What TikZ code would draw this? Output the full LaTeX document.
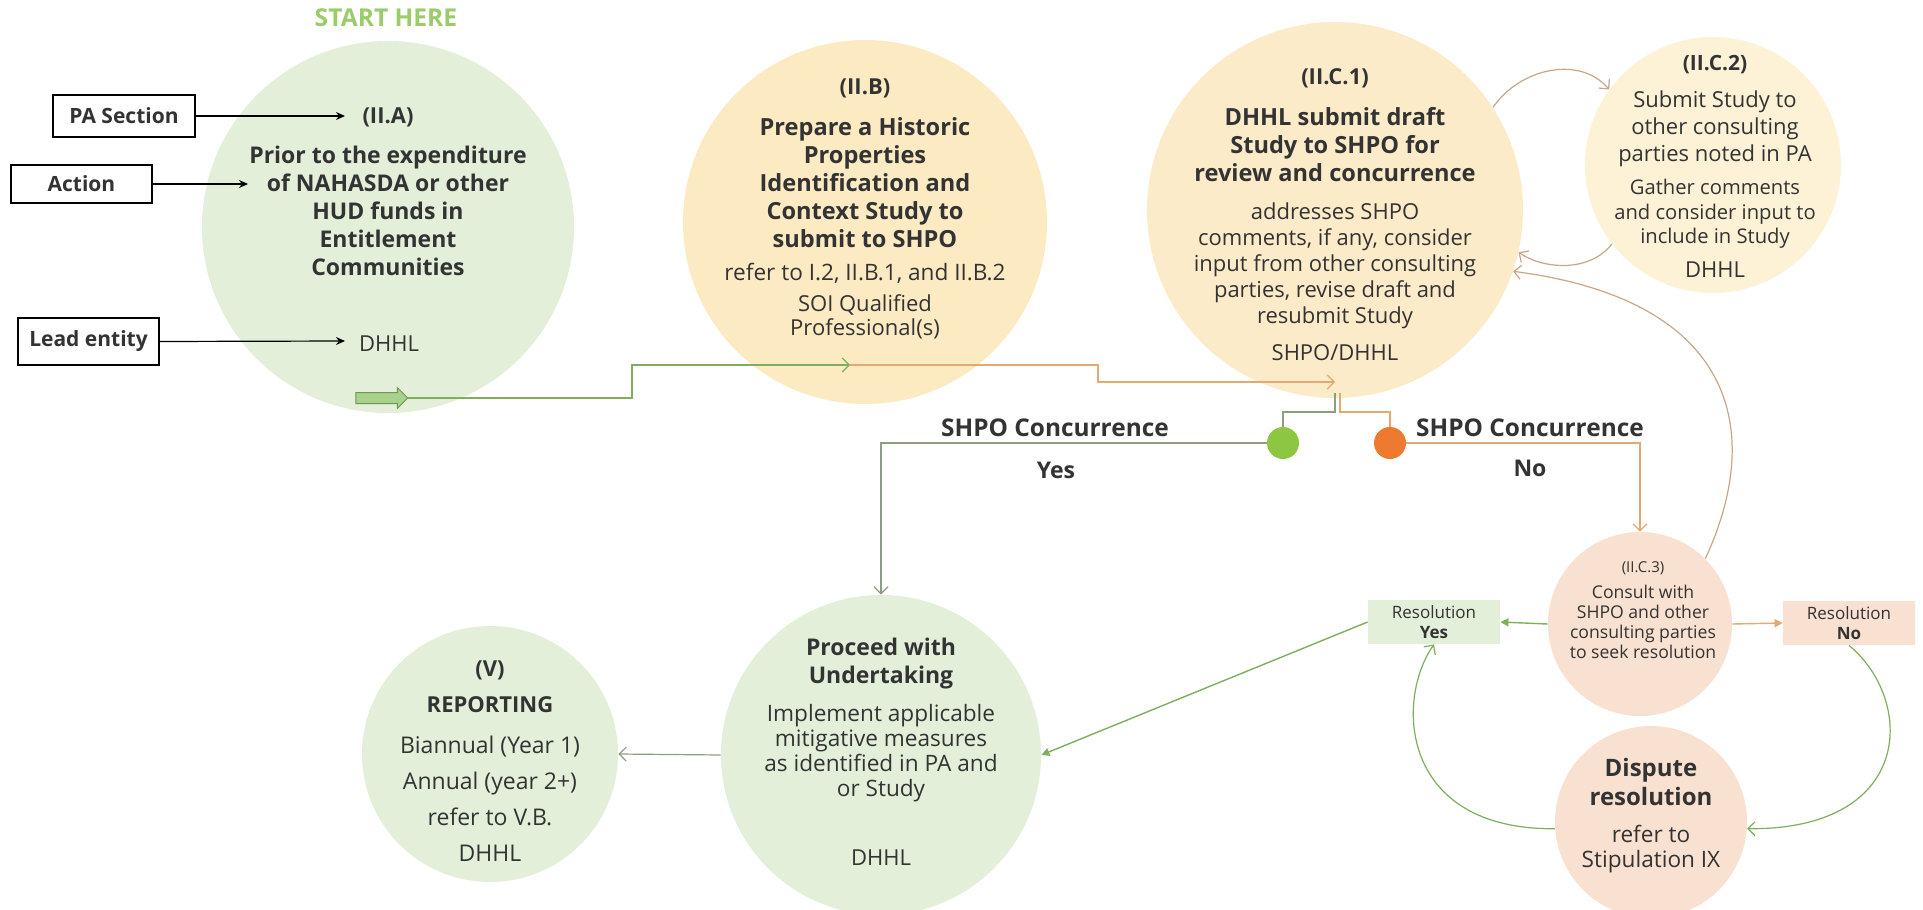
\documentclass[tikz,border=0pt]{standalone}
\usepackage{fontspec}
\setmainfont{Open Sans}
\usetikzlibrary{arrows.meta,shapes.arrows}
\definecolor{gfill}{HTML}{E4EFD9}
\definecolor{yB}{HTML}{FCEAC2}
\definecolor{yC}{HTML}{FCEBC9}
\definecolor{yD}{HTML}{FDF2D6}
\definecolor{peach}{HTML}{F9E1D1}
\definecolor{txt}{HTML}{333333}
\definecolor{starttxt}{HTML}{9ACD6A}
\definecolor{gdotc}{HTML}{8DC640}
\definecolor{odotc}{HTML}{EE7A30}
\definecolor{gline}{HTML}{7FAE5F}
\definecolor{tline}{HTML}{E0AA70}
\definecolor{yesline}{HTML}{8E9E80}
\definecolor{brown}{HTML}{C9A58A}
\definecolor{blkf}{HTML}{A9D18E}
\definecolor{blkd}{HTML}{6A9A48}
\begin{document}
\begin{tikzpicture}[x=0.5pt,y=-0.5pt,
  bubble/.style={circle,inner sep=0pt,draw=none},
  lbl/.style={inner sep=0pt,align=center,text=txt},
  pabx/.style={draw=black,line width=0.9pt,inner sep=0pt,font=\fontsize{10.5}{11}\selectfont\bfseries,text=txt},
  resbox/.style={inner sep=0pt,minimum width=66pt,minimum height=22pt,align=center,text=txt,font=\fontsize{8.5}{10}\selectfont},
  blackarr/.style={-{Stealth[length=4.5pt,width=4pt]},line width=0.6pt,black},
  openarr/.style={-{Straight Barb[length=3.5pt,width=7pt]},line width=0.6pt},
  triarr/.style={-{Triangle[length=4pt,width=4pt]},line width=0.7pt},
  dot/.style={circle,inner sep=0pt,minimum size=16pt}
]
\useasboundingbox[fill=white] (0,0) rectangle (1923,910);

% bubbles
\node[bubble,fill=gfill,minimum size=186pt] (iia) at (388,227) {};
\node[bubble,fill=yB,minimum size=182pt] (iib) at (865,222) {};
\node[bubble,fill=yC,minimum size=188pt] (iic1) at (1335,210) {};
\node[bubble,fill=yD,minimum size=128pt] (iic2) at (1713,165) {};
\node[bubble,fill=peach,minimum size=92pt] (iic3) at (1640,624) {};
\node[bubble,fill=peach,minimum size=96pt] (dispute) at (1651,822) {};
\node[bubble,fill=gfill,minimum size=160pt] (proceed) at (881,755) {};
\node[bubble,fill=gfill,minimum size=128pt] (report) at (490,754) {};

% resolution boxes
\node[resbox,fill=gfill] (resyes) at (1434,622) {Resolution\\\textbf{Yes}};
\node[resbox,fill=peach] (resno) at (1849,623) {Resolution\\\textbf{No}};

% dots
\node[dot,fill=gdotc] (gdot) at (1283,443) {};
\node[dot,fill=odotc] (odot) at (1390,443) {};

% left label boxes
\node[pabx,minimum width=71pt,minimum height=21pt] (pabox) at (124,116) {PA Section};
\node[pabx,minimum width=70.5pt,minimum height=19pt] (actbox) at (81.5,184) {Action};
\node[pabx,minimum width=70.5pt,minimum height=23.5pt] (leadbox) at (88.5,341.5) {Lead entity};
\coordinate (paT) at (345,116);
\coordinate (actT) at (248,184);
\coordinate (leadT) at (345,341);
\draw[blackarr] (pabox.east) -- (paT);
\draw[blackarr] (actbox.east) -- (actT);
\draw[blackarr] (leadbox.east) -- (leadT);

% block arrow
\node[single arrow,fill=blkf,draw=blkd,line width=0.5pt,inner sep=2.5pt,minimum height=26pt,minimum width=10pt,single arrow head extend=2.5pt] (blk) at (379,398) {};

% main flow
\coordinate (f1) at (632,398);
\coordinate (f2) at (632,365);
\coordinate (fmid) at (850,365);
\coordinate (f3) at (1098,365);
\coordinate (f4) at (1098,382);
\coordinate (f5) at (1335,382);
\draw[openarr,gline] (blk.tip) -- (f1) -- (f2) -- (fmid);
\draw[openarr,tline] (fmid) -- (f3) -- (f4) -- (f5);

% branch
\coordinate (b1) at (1335,393);
\coordinate (b2) at (1340,393);
\draw[yesline,line width=0.6pt] (b1) -- (1335,412) -| (gdot.north);
\draw[tline,line width=0.6pt] (b2) -- (1340,412) -| (odot.north);
\draw[openarr,yesline] (gdot.west) -| (proceed.north);
\draw[openarr,tline] (odot.east) -| (iic3.north);

% II.C loops
\draw[openarr,brown] (iic1.33) .. controls (1520,68) and (1580,55) .. (iic2.144);
\draw[openarr,brown] (iic2.218) .. controls (1590,272) and (1545,270) .. (iic1.-13);
\draw[openarr,brown] (iic3.45) .. controls (1765,430) and (1735,300) .. (iic1.-19);

% resolution arrows
\draw[triarr,gline] (iic3.west) -- (resyes.east);
\draw[triarr,tline] (iic3.east) -- (resno.west);
\draw[openarr,gline] (dispute.184) .. controls (1400,830) and (1395,700) .. (resyes.south);
\draw[openarr,gline] (resno.south) .. controls (1915,700) and (1915,830) .. (dispute.-4);
\draw[triarr,gline] (resyes.west) -- (proceed.east);
\draw[openarr,yesline] (proceed.west) -- (report.east);

% texts
\node[lbl,text=starttxt,font=\fontsize{12.3}{13}\selectfont\bfseries] (start) at (386,18) {START HERE};

\node[lbl,font=\fontsize{11}{12}\selectfont\bfseries] (iaH) at (388,117) {(II.A)};
\node[lbl,anchor=north,font=\fontsize{11.5}{14}\selectfont\bfseries] (iaB) at (388,146) {Prior to the expenditure\\of NAHASDA or other\\HUD funds in\\Entitlement\\Communities};
\node[lbl,font=\fontsize{11}{12}\selectfont] (iaD) at (389,344) {DHHL};

\node[lbl,font=\fontsize{11}{12}\selectfont\bfseries] (ibH) at (865,88) {(II.B)};
\node[lbl,anchor=north,font=\fontsize{11.8}{14}\selectfont\bfseries] (ibB) at (865,117) {Prepare a Historic\\Properties\\Identification and\\Context Study to\\submit to SHPO};
\node[lbl,font=\fontsize{11.3}{12}\selectfont] (ibR) at (865,273) {refer to I.2, II.B.1, and II.B.2};
\node[lbl,anchor=north,font=\fontsize{11}{12}\selectfont] (ibS) at (865,294) {SOI Qualified\\Professional(s)};

\node[lbl,font=\fontsize{11}{12}\selectfont\bfseries] (icH) at (1335,78) {(II.C.1)};
\node[lbl,anchor=north,font=\fontsize{11.8}{14}\selectfont\bfseries] (icB) at (1335,107) {DHHL submit draft\\Study to SHPO for\\review and concurrence};
\node[lbl,anchor=north,font=\fontsize{11}{13.1}\selectfont] (icR) at (1335,202) {addresses SHPO\\comments, if any, consider\\input from other consulting\\parties, revise draft and\\resubmit Study};
\node[lbl,font=\fontsize{11}{12}\selectfont] (icS) at (1335,353) {SHPO/DHHL};

\node[lbl,font=\fontsize{10.5}{12}\selectfont\bfseries] (idH) at (1715,65) {(II.C.2)};
\node[lbl,anchor=north,font=\fontsize{11}{13.5}\selectfont] (idB) at (1715,90) {Submit Study to\\other consulting\\parties noted in PA};
\node[lbl,anchor=north,font=\fontsize{10.1}{12.25}\selectfont] (idG) at (1715,179) {Gather comments\\and consider input to\\include in Study};
\node[lbl,font=\fontsize{11}{12}\selectfont] (idD) at (1715,270) {DHHL};

\node[lbl,font=\fontsize{7.5}{8}\selectfont] (ieH) at (1643,568) {(II.C.3)};
\node[lbl,anchor=north,font=\fontsize{8.8}{10}\selectfont] (ieB) at (1643,585) {Consult with\\SHPO and other\\consulting parties\\to seek resolution};

\node[lbl,anchor=north,font=\fontsize{12}{14.5}\selectfont\bfseries] (dB) at (1651,758) {Dispute\\resolution};
\node[lbl,anchor=north,font=\fontsize{11.3}{12.5}\selectfont] (dR) at (1651,825) {refer to\\Stipulation IX};

\node[lbl,anchor=north,font=\fontsize{11.5}{14}\selectfont\bfseries] (pB) at (881,638) {Proceed with\\Undertaking};
\node[lbl,anchor=north,font=\fontsize{11.3}{12.5}\selectfont] (pR) at (881,704) {Implement applicable\\mitigative measures\\as identified in PA and\\or Study};
\node[lbl,font=\fontsize{11}{12}\selectfont] (pD) at (881,858) {DHHL};

\node[lbl,font=\fontsize{11}{12}\selectfont\bfseries] (rH) at (490,670) {(V)};
\node[lbl,font=\fontsize{11}{12}\selectfont\bfseries] (rT) at (490,705) {REPORTING};
\node[lbl,anchor=north,font=\fontsize{11.5}{18}\selectfont] (rR) at (490,736) {Biannual (Year 1)\\Annual (year 2+)\\refer to V.B.\\DHHL};

\node[lbl,font=\fontsize{12.2}{13}\selectfont\bfseries] (yesL) at (1055,428) {SHPO Concurrence};
\node[lbl,font=\fontsize{11.5}{12}\selectfont\bfseries] (yesT) at (1056,470) {Yes};
\node[lbl,font=\fontsize{12.2}{13}\selectfont\bfseries] (noL) at (1530,428) {SHPO Concurrence};
\node[lbl,font=\fontsize{11.5}{12}\selectfont\bfseries] (noT) at (1530,468) {No};
\end{tikzpicture}
\end{document}
